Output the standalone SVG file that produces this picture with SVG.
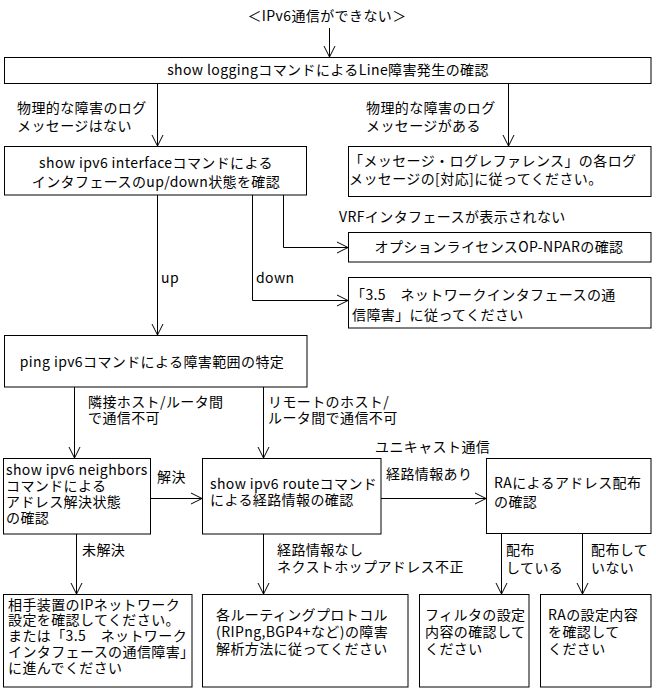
<svg xmlns="http://www.w3.org/2000/svg" width="656" height="689" viewBox="0 0 656 689">
<style>
text{font-family:"Noto Sans CJK JP","Noto Sans",sans-serif;font-size:14px;letter-spacing:0.4px;fill:#000}
.box{fill:#fff;stroke:#000;stroke-width:1}
.c{fill:none;stroke:#000;stroke-width:1;marker-end:url(#arr)}
.m{text-anchor:middle}
</style>
<defs>
<marker id="arr" markerUnits="userSpaceOnUse" markerWidth="12" markerHeight="12" refX="11" refY="5.5" orient="auto" viewBox="0 0 12 11" overflow="visible">
<path d="M0,0 L11,5.5 L0,11" fill="none" stroke="#000" stroke-width="1"/>
</marker>
</defs>
<rect width="656" height="689" fill="#fff"/>

<g id="connectors">
<path class="c" d="M329.5,28 V57"/>
<path class="c" d="M157.5,83 V146"/>
<path class="c" d="M508.5,83 V146"/>
<path class="c" d="M157.5,195 V335"/>
<path class="c" d="M252.5,195 V300.5 H348"/>
<path class="c" d="M283.5,195 V247.5 H348"/>
<path class="c" d="M74.5,387 V458"/>
<path class="c" d="M263.5,387 V458"/>
<path class="c" d="M150,498.5 H202"/>
<path class="c" d="M381,498.5 H486"/>
<path class="c" d="M76.5,534 V594"/>
<path class="c" d="M263.5,534 V594"/>
<path class="c" d="M501.5,533 V594"/>
<path class="c" d="M582.5,533 V594"/>
<g id="edge-labels">
<text x="17" y="113">物理的な障害のログ</text>
<text x="17" y="131">メッセージはない</text>
<text x="366" y="113">物理的な障害のログ</text>
<text x="366" y="131">メッセージがある</text>
<text x="339" y="222">VRFインタフェースが表示されない</text>
<text x="161" y="283">up</text>
<text x="256" y="283">down</text>
<text x="88" y="407">隣接ホスト/ルータ間</text>
<text x="88" y="423">で通信不可</text>
<text x="268" y="407">リモートのホスト/</text>
<text x="268" y="423">ルータ間で通信不可</text>
<text x="157" y="482">解決</text>
<text x="375" y="452">ユニキャスト通信</text>
<text x="386" y="479">経路情報あり</text>
<text x="82" y="555">未解決</text>
<text x="277" y="555">経路情報なし</text>
<text x="277" y="572">ネクストホップアドレス不正</text>
<text x="506" y="555">配布</text>
<text x="506" y="573">している</text>
<text x="591" y="555">配布して</text>
<text x="591" y="573">いない</text>
</g>
</g>

<g id="start">
<text class="m" x="327" y="21">＜IPv6通信ができない＞</text>
</g>

<g id="logging">
<rect class="box" x="4.5" y="57.5" width="646.5" height="26"/>
<text class="m" x="328" y="75">show loggingコマンドによるLine障害発生の確認</text>
</g>

<g id="interface">
<rect class="box" x="4.5" y="146.5" width="302" height="48.5"/>
<text class="m" x="156" y="168">show ipv6 interfaceコマンドによる</text>
<text class="m" x="156" y="187">インタフェースのup/down状態を確認</text>
</g>

<g id="msglog">
<rect class="box" x="348.5" y="146.5" width="302.5" height="50"/>
<text x="349" y="166">「メッセージ・ログレファレンス」の各ログ</text>
<text x="349" y="184">メッセージの[対応]に従ってください。</text>
</g>

<g id="option">
<rect class="box" x="348.5" y="232.5" width="302.5" height="29.5"/>
<text class="m" x="499" y="252">オプションライセンスOP-NPARの確認</text>
</g>

<g id="netif">
<rect class="box" x="348.5" y="277.5" width="302.5" height="50.5"/>
<text x="351" y="300">「3.5　ネットワークインタフェースの通</text>
<text x="352" y="320">信障害」に従ってください</text>
</g>

<g id="ping">
<rect class="box" x="4.5" y="335.5" width="302.5" height="51.5"/>
<text class="m" x="152" y="367">ping ipv6コマンドによる障害範囲の特定</text>
</g>

<g id="neighbors">
<rect class="box" x="3.5" y="458.5" width="147" height="75.5"/>
<text x="6" y="475">show ipv6 neighbors</text>
<text x="6" y="491">コマンドによる</text>
<text x="6" y="507">アドレス解決状態</text>
<text x="6" y="523">の確認</text>
</g>

<g id="route">
<rect class="box" x="202.5" y="458.5" width="178.5" height="75.5"/>
<text x="210" y="489">show ipv6 routeコマンド</text>
<text x="210" y="505">による経路情報の確認</text>
</g>

<g id="ra">
<rect class="box" x="486.5" y="458.5" width="164.5" height="75"/>
<text x="494" y="488">RAによるアドレス配布</text>
<text x="494" y="507">の確認</text>
</g>

<g id="peer">
<rect class="box" x="3.5" y="594.5" width="188.5" height="92.5"/>
<text x="8" y="610">相手装置のIPネットワーク</text>
<text x="8" y="625">設定を確認してください。</text>
<text x="8" y="641">または「3.5　ネットワーク</text>
<text x="8" y="657">インタフェースの通信障害」</text>
<text x="8" y="673">に進んでください</text>
</g>

<g id="routing">
<rect class="box" x="202.5" y="594.5" width="205.5" height="92.5"/>
<text x="216" y="620">各ルーティングプロトコル</text>
<text x="216" y="637">(RIPng,BGP4+など)の障害</text>
<text x="216" y="654">解析方法に従ってください</text>
</g>

<g id="filter">
<rect class="box" x="419.5" y="594.5" width="109.5" height="92.5"/>
<text x="425" y="620">フィルタの設定</text>
<text x="425" y="637">内容の確認して</text>
<text x="425" y="654">ください</text>
</g>

<g id="rasetting">
<rect class="box" x="540.5" y="594.5" width="110.5" height="92.5"/>
<text x="548" y="620">RAの設定内容</text>
<text x="548" y="637">を確認して</text>
<text x="548" y="654">ください</text>
</g>
</svg>
